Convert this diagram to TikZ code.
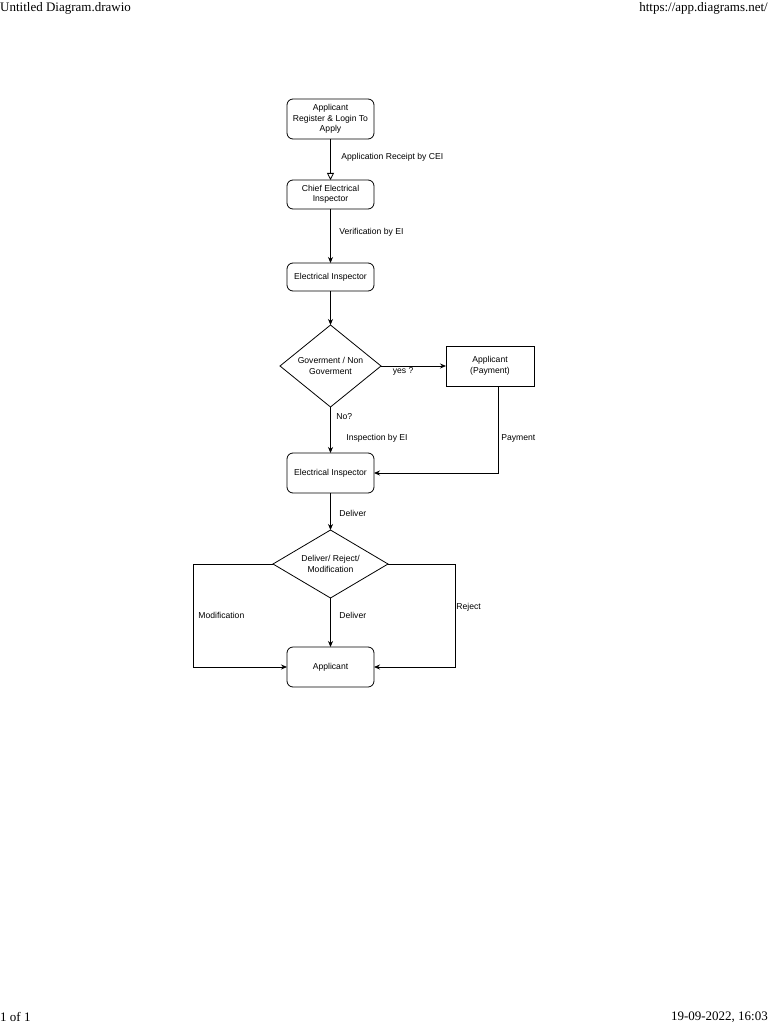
\documentclass[tikz,border=0pt]{standalone}
\usepackage{fontspec}
\setmainfont{Liberation Sans}
\newfontfamily\pagefont{Liberation Serif}
\usetikzlibrary{arrows.meta,positioning,shapes.geometric}

\begin{document}
\begin{tikzpicture}[x=1pt, y=-1pt,
      stage/.style={draw, line width=0.8pt, rounded corners=6pt, align=center, outer sep=0pt,
        font=\fontsize{8.6}{10.5}\selectfont, inner sep=2pt, minimum width=87pt, minimum height=40pt},
      plain/.style={draw, line width=0.8pt, align=center, outer sep=0pt,
        font=\fontsize{8.6}{10.5}\selectfont, inner sep=2pt, minimum width=88pt, minimum height=40pt},
      choice/.style={draw, diamond, line width=0.8pt, align=center, shape aspect=1.5,
        font=\fontsize{8.6}{10.5}\selectfont, inner sep=0pt, outer sep=0pt},
      lbl/.style={font=\fontsize{8.6}{10.5}\selectfont, inner sep=0pt},
      arr/.style={-{Stealth[length=6pt, width=5pt]}, line width=0.8pt},
      openarr/.style={-{Triangle[open, length=7pt, width=7pt, fill=white]}, line width=0.8pt},
      pagetext/.style={font=\pagefont\fontsize{13}{15}\selectfont, inner sep=0pt}]
    \useasboundingbox (0,0) rectangle (768,1024);
    % page header and footer
    \node[pagetext, anchor=west] (title) at (0,8) {Untitled Diagram.drawio};
    \node[pagetext, anchor=east] (url) at (768,8) {https://app.diagrams.net/};
    \node[pagetext, anchor=west] (pageno) at (0,1017) {1 of 1};
    \node[pagetext, anchor=east] (date) at (768,1017) {19-09-2022, 16:03};
    % flow
    \node[stage] (apply) at (330.5,119) {Applicant\\Register \& Login To\\Apply};
    \node[stage, minimum height=29pt, below=41pt of apply] (cei) {Chief Electrical\\Inspector};
    \node[stage, minimum height=28pt, below=54pt of cei] (ei) {Electrical Inspector};
    \node[choice, minimum width=101pt, minimum height=82pt, below=34pt of ei] (gov) {Goverment / Non\\Goverment};
    \node[plain, right=65pt of gov] (pay) {Applicant\\(Payment)};
    \node[stage, below=46pt of gov] (insp) {Electrical Inspector};
    \node[choice, minimum width=115pt, minimum height=68pt, below=37pt of insp] (dec) {Deliver/ Reject/\\Modification};
    \node[stage, below=49pt of dec] (appl) {Applicant};
    \draw[openarr] (apply) -- node[lbl, pos=0.44, right=10.5pt] {Application Receipt by CEI} (cei);
    \draw[arr] (cei) -- node[lbl, pos=0.43, right=8.5pt] {Verification by EI} (ei);
    \draw[arr] (ei) -- (gov);
    \draw[arr] (gov.east) -- node[lbl, pos=0.34, below=1.5pt] {yes ?} (pay);
    \draw[arr] ([xshift=8pt]pay.south) |- node[lbl, pos=0.3, right=3pt] {Payment} (insp.east);
    \draw[arr] (gov.south) -- node[lbl, pos=0.2, right=5.5pt] {No?}
      node[lbl, pos=0.67, right=15.5pt] {Inspection by EI} (insp);
    \draw[arr] (insp) -- node[lbl, pos=0.54, right=8.5pt] {Deliver} (dec);
    \draw[arr] (dec.south) -- node[lbl, pos=0.35, right=8.5pt] {Deliver} (appl);
    \draw[arr] (dec.west) -- ++(-80,0) |- node[lbl, pos=0.25, right=5pt] {Modification} (appl.west);
    \draw[arr] (dec.east) -- ++(67,0) |- node[lbl, pos=0.21, right=1pt] {Reject} (appl.east);
  \end{tikzpicture}
\end{document}
